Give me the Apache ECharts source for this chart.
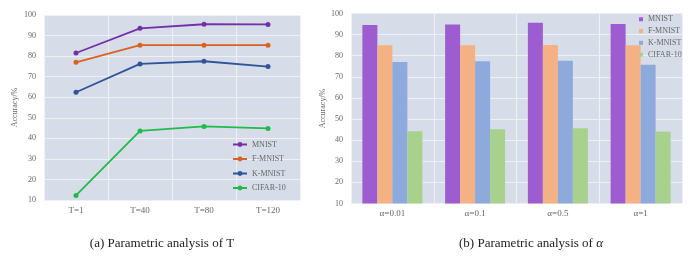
<!DOCTYPE html>
<html>
<head>
<meta charset="utf-8">
<script src="https://cdn.jsdelivr.net/npm/echarts@6/dist/echarts.min.js"></script>
<style>html,body{margin:0;padding:0;background:#fff;}#c{width:695px;height:260px;}</style>
</head>
<body>
<div id="c"></div>
<script>
const tCategories = ['T=1', 'T=40', 'T=80', 'T=120'];
const tMNIST = [81.5, 93.5, 95.5, 95.4];
const tFMNIST = [77.0, 85.3, 85.3, 85.3];
const tKMNIST = [62.4, 76.2, 77.5, 74.9];
const tCIFAR = [12.2, 43.6, 45.8, 44.8];

const aCategories = ['α=0.01', 'α=0.1', 'α=0.5', 'α=1'];
const aMNIST = [94.5, 94.8, 95.6, 95.0];
const aFMNIST = [85.0, 85.0, 85.1, 85.0];
const aKMNIST = [77.0, 77.4, 77.6, 75.7];
const aCIFAR = [44.2, 45.2, 45.7, 44.1];

const yTicks = [10, 100, 10]; // min, max, interval
const seriesNames = ['MNIST', 'F-MNIST', 'K-MNIST', 'CIFAR-10'];

const FONT = '"Liberation Serif", "DejaVu Serif", serif';
const lineColors = ['#7330a8', '#d9621f', '#2f539c', '#1fbb4b'];
const barColors = ['#9d5ccf', '#f4b183', '#8eaadc', '#a8d18e'];
const BG = '#d7dde8';

const chart = echarts.init(document.getElementById('c'), null, {renderer: 'canvas'});

function yAxis(gridIndex, nameGap) {
  return {
    type: 'value', gridIndex, min: yTicks[0], max: yTicks[1], interval: yTicks[2],
    name: 'Accuracy/%', nameLocation: 'middle', nameGap,
    nameTextStyle: {fontFamily: FONT, fontSize: 8, color: '#666'},
    axisLine: {show: false}, axisTick: {show: false},
    axisLabel: {fontFamily: FONT, fontSize: 8, color: '#666', margin: 8},
    splitLine: {lineStyle: {color: '#eef0f5', width: 1}}
  };
}
function xAxis(gridIndex, data) {
  return {
    type: 'category', gridIndex, data, boundaryGap: true,
    axisLine: {show: false}, axisTick: {show: false},
    axisLabel: {fontFamily: FONT, fontSize: 9, color: '#666', margin: 6},
    splitLine: {show: true, lineStyle: {color: '#eef0f5', width: 1}}
  };
}

const tVals = [tMNIST, tFMNIST, tKMNIST, tCIFAR];
const aVals = [aMNIST, aFMNIST, aKMNIST, aCIFAR];

const series = [];
seriesNames.forEach((n, i) => {
  series.push({
    type: 'line', name: n, xAxisIndex: 0, yAxisIndex: 0, data: tVals[i],
    symbol: 'circle', symbolSize: 5, lineStyle: {width: 1.8, color: lineColors[i]},
    itemStyle: {color: lineColors[i]}, z: 3
  });
});
seriesNames.forEach((n, i) => {
  series.push({
    type: 'bar', name: n + ' (b)', xAxisIndex: 1, yAxisIndex: 1, data: aVals[i],
    barGap: '0%', barCategoryGap: '27.5%', itemStyle: {color: barColors[i]}
  });
});

chart.setOption({
  animation: false,
  backgroundColor: '#fff',
  title: [
    {text: '(a) Parametric analysis of T', left: 157, top: 232, textAlign: 'center',
     textStyle: {fontFamily: FONT, fontSize: 13, fontWeight: 'normal', color: '#222'}},
    {text: '(b) Parametric analysis of {i|α}', left: 526, top: 232, textAlign: 'center',
     textStyle: {fontFamily: FONT, fontSize: 13, fontWeight: 'normal', color: '#222',
       rich: {i: {fontFamily: FONT, fontSize: 13, fontStyle: 'italic', color: '#222'}}}}
  ],
  grid: [
    {left: 44, top: 15, width: 256, height: 185, show: true, backgroundColor: BG, borderWidth: 0},
    {left: 351, top: 13.5, width: 331, height: 190, show: true, backgroundColor: BG, borderWidth: 0}
  ],
  xAxis: [xAxis(0, tCategories), xAxis(1, aCategories)],
  yAxis: [yAxis(0, 25), yAxis(1, 22)],
  legend: [
    {data: seriesNames, orient: 'vertical', left: 232, top: 140, padding: 0, itemWidth: 14, itemHeight: 6, itemGap: 5.5,
     textStyle: {fontFamily: FONT, fontSize: 8, color: '#666', lineHeight: 9}},
    {data: seriesNames.map(n => n + ' (b)'), orient: 'vertical', left: 639, top: 15, padding: 0, itemWidth: 4, itemHeight: 4, itemGap: 3.3,
     icon: 'rect', formatter: n => n.replace(' (b)', ''),
     textStyle: {fontFamily: FONT, fontSize: 8, color: '#666', lineHeight: 8.5}}
  ],
  series
});
</script>
</body>
</html>
